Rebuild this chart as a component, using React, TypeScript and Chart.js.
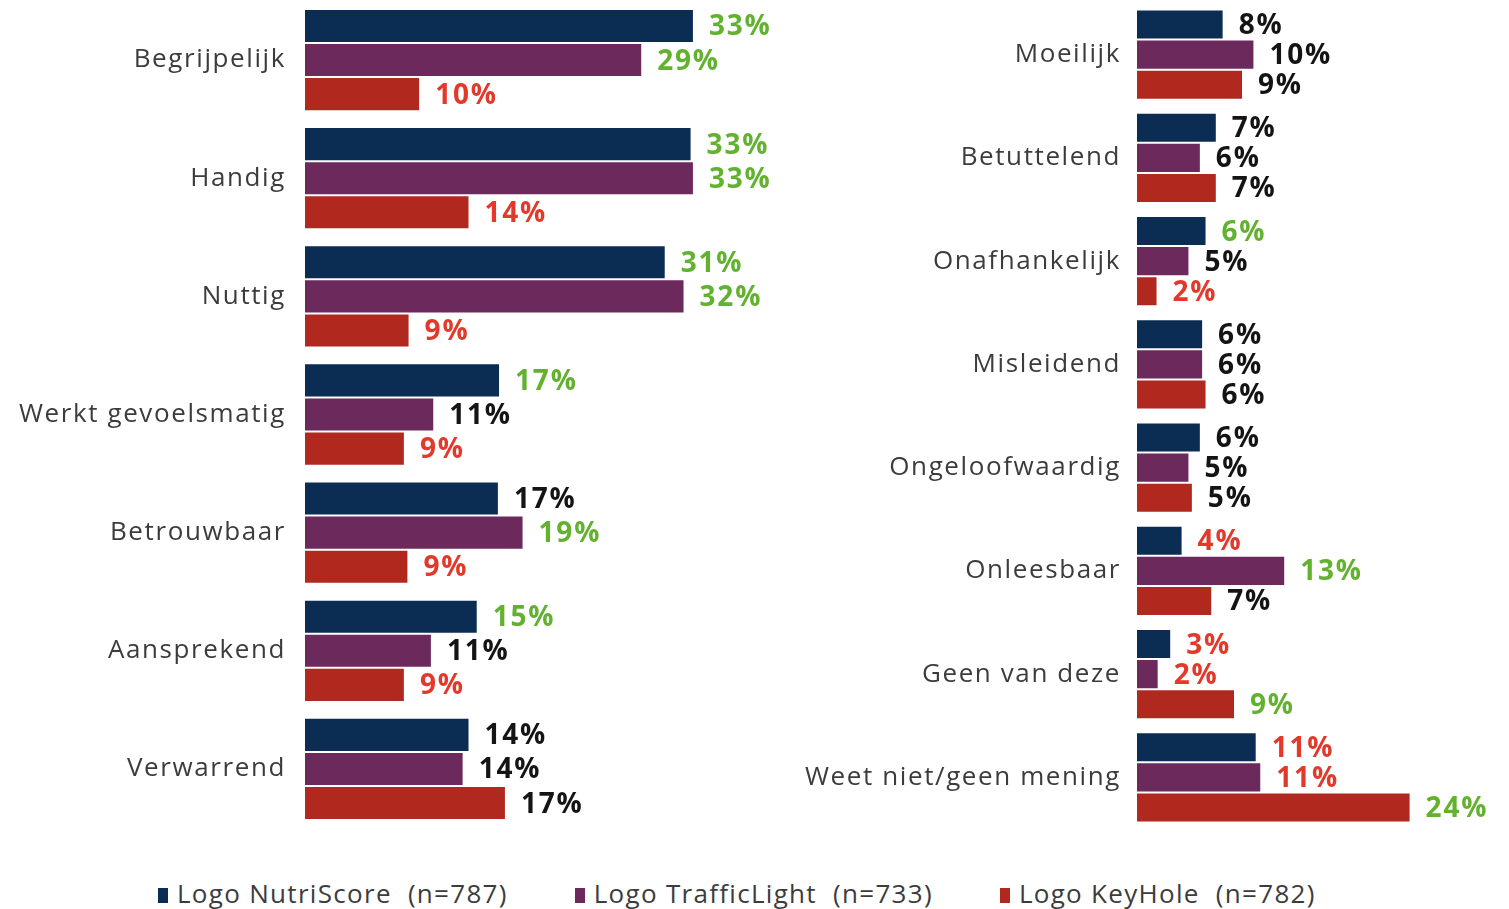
import React, { useEffect, useRef } from 'react';
import { Chart, registerables } from 'chart.js';

Chart.register(...registerables);

// ---------- DATA ----------
const leftCategories = ['Begrijpelijk', 'Handig', 'Nuttig', 'Werkt gevoelsmatig', 'Betrouwbaar', 'Aansprekend', 'Verwarrend'];
const leftNutriScore = [33.1, 32.9, 30.7, 16.6, 16.5, 14.7, 14.0];
const leftTrafficLight = [28.7, 33.1, 32.3, 11.0, 18.6, 10.8, 13.5];
const leftKeyHole = [9.8, 14.0, 8.9, 8.5, 8.8, 8.5, 17.1];
// label colour codes: g = green (highest), r = red (lowest), k = black
const leftNutriColors = ['g', 'g', 'g', 'g', 'k', 'g', 'k'];
const leftTrafficColors = ['g', 'g', 'g', 'k', 'g', 'k', 'k'];
const leftKeyColors = ['r', 'r', 'r', 'r', 'r', 'r', 'k'];

const rightCategories = ['Moeilijk', 'Betuttelend', 'Onafhankelijk', 'Misleidend', 'Ongeloofwaardig', 'Onleesbaar', 'Geen van deze', 'Weet niet/geen mening'];
const rightNutriScore = [7.6, 7.0, 6.1, 5.8, 5.6, 4.0, 3.0, 10.5];
const rightTrafficLight = [10.3, 5.6, 4.6, 5.8, 4.6, 13.0, 1.9, 10.9];
const rightKeyHole = [9.3, 7.0, 1.8, 6.1, 4.9, 6.6, 8.6, 24.0];
const rightNutriColors = ['k', 'k', 'g', 'k', 'k', 'r', 'r', 'r'];
const rightTrafficColors = ['k', 'k', 'k', 'k', 'k', 'g', 'r', 'r'];
const rightKeyColors = ['k', 'k', 'r', 'k', 'k', 'k', 'g', 'g'];

const seriesNames = ['Logo NutriScore  (n=787)', 'Logo TrafficLight  (n=733)', 'Logo KeyHole  (n=782)'];

// ---------- STYLE ----------
const SERIES_COLORS = ['#0b2d54', '#6c2a5c', '#b1281e'];
const LABEL_COLORS: Record<string, string> = { g: '#62b22f', r: '#e2392b', k: '#141414' };
const FONT = '"Open Sans", "Noto Sans", sans-serif';

type PanelProps = {
  categories: string[];
  series: number[][];
  colors: string[][];
  max: number;
  axisWidth: number;
  tickPad: number;
  rightPad: number;
  catPct: number;
  width: number;
  height: number;
  left: number;
  top: number;
};

function Panel(p: PanelProps) {
  const ref = useRef<HTMLCanvasElement | null>(null);

  useEffect(() => {
    const canvas = ref.current;
    if (!canvas) return;

    const valueLabels = {
      id: 'valueLabels',
      beforeDraw(chart: any) {
        chart.ctx.letterSpacing = '1.6px';
      },
      afterDatasetsDraw(chart: any) {
        const ctx = chart.ctx;
        ctx.save();
        ctx.font = `bold 28px ${FONT}`;
        ctx.letterSpacing = '1.8px';
        ctx.textAlign = 'left';
        ctx.textBaseline = 'middle';
        chart.data.datasets.forEach((ds: any, di: number) => {
          const meta = chart.getDatasetMeta(di);
          meta.data.forEach((bar: any, i: number) => {
            const v = ds.data[i] as number;
            ctx.fillStyle = LABEL_COLORS[p.colors[di][i]];
            ctx.fillText(`${Math.round(v)}%`, bar.x + 15, bar.y + 1.5);
          });
        });
        ctx.restore();
      },
    };

    const chart = new Chart(canvas, {
      type: 'bar',
      data: {
        labels: p.categories,
        datasets: p.series.map((d, i) => ({
          label: seriesNames[i],
          data: d,
          backgroundColor: SERIES_COLORS[i],
          borderColor: '#ffffff',
          borderWidth: 1,
          categoryPercentage: p.catPct,
          barPercentage: 1,
        })),
      },
      options: {
        indexAxis: 'y',
        responsive: false,
        maintainAspectRatio: false,
        animation: false,
        devicePixelRatio: 1,
        layout: { padding: { left: 0, right: p.rightPad, top: 0, bottom: 0 } },
        plugins: {
          legend: { display: false },
          tooltip: { enabled: false },
        },
        scales: {
          x: { display: false, min: 0, max: p.max },
          y: {
            grid: { display: false, drawTicks: false },
            border: { display: false },
            ticks: {
              padding: p.tickPad,
              color: '#3c3c3c',
              font: { family: FONT, size: 26 },
            },
            afterFit(scale: any) {
              scale.width = p.axisWidth;
              scale.paddingTop = 0;
              scale.paddingBottom = 0;
            },
          },
        },
      } as any,
      plugins: [valueLabels],
    });

    return () => chart.destroy();
  }, []);

  return (
    <canvas
      ref={ref}
      width={p.width}
      height={p.height}
      style={{ position: 'absolute', left: p.left, top: p.top, width: p.width, height: p.height }}
    />
  );
}

export default function App() {
  return (
    <div style={{ position: 'absolute', left: 0, top: 0, width: 1509, height: 909, background: '#fff', overflow: 'hidden' }}>
      <Panel
        categories={leftCategories}
        series={[leftNutriScore, leftTrafficLight, leftKeyHole]}
        colors={[leftNutriColors, leftTrafficColors, leftKeyColors]}
        max={40}
        axisWidth={305}
        tickPad={19}
        rightPad={25}
        catPct={0.866}
        width={800}
        height={827}
        left={0}
        top={1}
      />
      <Panel
        categories={rightCategories}
        series={[rightNutriScore, rightTrafficLight, rightKeyHole]}
        colors={[rightNutriColors, rightTrafficColors, rightKeyColors]}
        max={30}
        axisWidth={337}
        tickPad={16}
        rightPad={30}
        catPct={0.872}
        width={709}
        height={826}
        left={800}
        top={3}
      />
      <div
        style={{
          position: 'absolute',
          left: 158,
          top: 877,
          display: 'flex',
          alignItems: 'center',
          gap: 67,
          fontFamily: FONT,
          fontSize: 26,
          letterSpacing: '1.3px',
          color: '#3c3c3c',
          lineHeight: '32px',
          whiteSpace: 'pre',
        }}
      >
        {seriesNames.map((n, i) => (
          <div key={n} style={{ display: 'flex', alignItems: 'center' }}>
            <span style={{ display: 'inline-block', width: 10, height: 15, background: SERIES_COLORS[i], marginRight: 9, marginTop: 4 }} />
            <span>{n}</span>
          </div>
        ))}
      </div>
    </div>
  );
}
